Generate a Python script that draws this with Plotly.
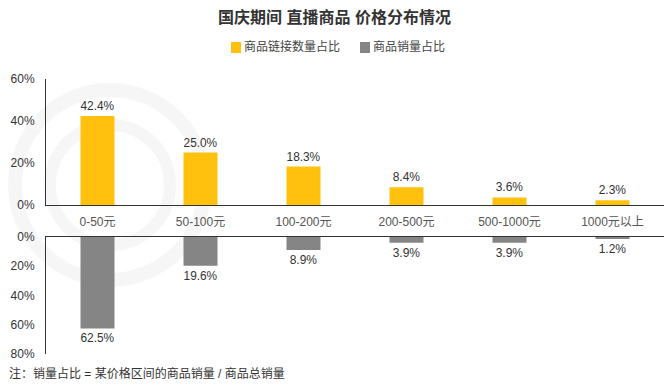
import plotly.graph_objects as go

categories = ["0-50元", "50-100元", "100-200元", "200-500元", "500-1000元", "1000元以上"]
link_share = [42.4, 25.0, 18.3, 8.4, 3.6, 2.3]
sales_share = [62.5, 19.6, 8.9, 3.9, 3.9, 1.2]
series_names = ["商品链接数量占比", "商品销量占比"]
series_colors = ["#FFC10E", "#858585"]
top_ticks = [0, 20, 40, 60]
bottom_ticks = [0, 20, 40, 60, 80]

FONT = "Liberation Sans, Noto Sans CJK SC, sans-serif"

fig = go.Figure()
fig.add_trace(go.Bar(
    x=categories, y=link_share, name=series_names[0],
    marker=dict(color=series_colors[0], line=dict(width=0)),
    width=0.33,
    text=[f"{v:.1f}%" for v in link_share], textposition="outside",
    textfont=dict(size=12, color="#333333"), cliponaxis=False,
    xaxis="x", yaxis="y",
))
fig.add_trace(go.Bar(
    x=categories, y=sales_share, name=series_names[1],
    marker=dict(color=series_colors[1], line=dict(width=0)),
    width=0.33,
    text=[f"{v:.1f}%" for v in sales_share], textposition="outside",
    textfont=dict(size=12, color="#333333"), cliponaxis=False,
    xaxis="x2", yaxis="y2",
))

W, H = 669, 385
ml, mr, mt, mb = 46, 5, 79, 31
pw = W - ml - mr
ph = H - mt - mb
top_dom = [(H - mb - 205) / ph, 1.0]
bot_dom = [0.0, (354 - 237) / ph]


def px_x(px):
    return (px - ml) / pw


def px_y(py):
    return (H - mb - py) / ph


fig.update_layout(
    width=W, height=H,
    margin=dict(l=ml, r=mr, t=mt, b=mb, autoexpand=False),
    paper_bgcolor="white", plot_bgcolor="rgba(0,0,0,0)",
    font=dict(family=FONT, size=12, color="#333333"),
    title=dict(text="<b>国庆期间 直播商品 价格分布情况</b>", x=0.5, xanchor="center",
               y=1 - 17 / H, yanchor="middle", font=dict(size=16, color="#333333")),
    showlegend=False,
    bargap=0.67,
    xaxis=dict(domain=[0, 1], anchor="y", showline=True, linecolor="#333333", linewidth=1,
               ticks="outside", ticklen=6, tickcolor="rgba(0,0,0,0)",
               tickfont=dict(size=12, color="#555555"), showgrid=False, zeroline=False),
    yaxis=dict(domain=top_dom, range=[0, 60], tickvals=top_ticks,
               ticktext=[f"{t}%" for t in top_ticks], showline=True, linecolor="#333333",
               linewidth=1, showgrid=False, zeroline=False, ticks="outside", ticklen=8,
               tickcolor="rgba(0,0,0,0)", tickfont=dict(size=12, color="#333333")),
    xaxis2=dict(domain=[0, 1], anchor="y2", side="top", showline=True, linecolor="#333333",
                linewidth=1, showticklabels=False, showgrid=False, zeroline=False,
                matches="x"),
    yaxis2=dict(domain=bot_dom, range=[80, 0], tickvals=bottom_ticks,
                ticktext=[f"{t}%" for t in bottom_ticks], showline=True, linecolor="#333333",
                linewidth=1, showgrid=False, zeroline=False, ticks="outside", ticklen=8,
                tickcolor="rgba(0,0,0,0)", tickfont=dict(size=12, color="#333333")),
)

# custom legend (square + label)
legend_x = [231, 360]
legend_y = 47
for name, col, lx in zip(series_names, series_colors, legend_x):
    fig.add_shape(type="rect", xref="paper", yref="paper",
                  x0=px_x(lx), x1=px_x(lx + 10), y0=px_y(legend_y + 6), y1=px_y(legend_y - 5),
                  fillcolor=col, line=dict(width=0))
    fig.add_annotation(text=name, xref="paper", yref="paper", x=px_x(lx + 11), xanchor="left",
                       y=px_y(legend_y), yanchor="middle", showarrow=False,
                       font=dict(size=12, color="#444444"))

# faint watermark rings
for r, w in [(95, 14), (60, 12)]:
    fig.add_shape(type="circle", xref="paper", yref="paper", layer="below",
                  x0=px_x(110 - r), x1=px_x(110 + r),
                  y0=px_y(185 + r), y1=px_y(185 - r),
                  line=dict(color="rgba(0,0,0,0.035)", width=w))

fig.add_annotation(text="注：销量占比 = 某价格区间的商品销量 / 商品总销量", xref="paper", yref="paper",
                   x=px_x(7), xanchor="left", y=px_y(373),
                   yanchor="middle", showarrow=False, font=dict(size=12, color="#333333"))

fig.write_html("out.html", config={"displayModeBar": False},
               post_script="document.body.style.margin='0';")
